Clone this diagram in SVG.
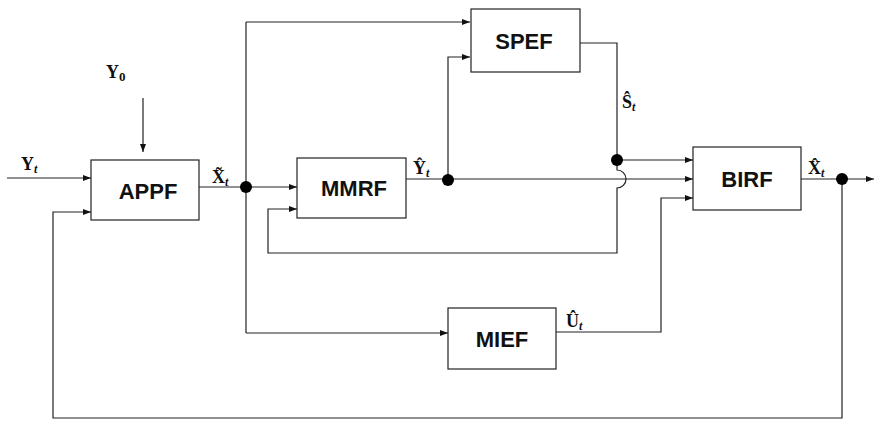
<svg xmlns="http://www.w3.org/2000/svg" width="874" height="422" viewBox="0 0 874 422">
<style>
.box{fill:#fff;stroke:#222;stroke-width:1.2}
.bt{font-family:"Liberation Sans",Arial,sans-serif;font-weight:bold;font-size:22px;fill:#111;text-anchor:middle}
.ln{fill:none;stroke:#222;stroke-width:1.2}
.lb{font-family:"Liberation Serif","Times New Roman",serif;font-weight:bold;font-size:18px;fill:#111}
.sb{font-style:italic;font-size:12px}
.sn{font-size:13px}
.dot{fill:#000}
</style>
<defs>
<marker id="ah" markerWidth="8" markerHeight="6" refX="8" refY="3" orient="auto" markerUnits="userSpaceOnUse">
<path d="M0,0 L8,3 L0,6 Z" fill="#111"/>
</marker>
</defs>
<rect width="874" height="422" fill="#fff"/>
<g id="connectors">
<path class="ln" d="M7 178 H91" marker-end="url(#ah)"/>
<path class="ln" d="M143 98 V152" marker-end="url(#ah)"/>
<path class="ln" d="M199 187 H246"/>
<path class="ln" d="M246 187 H297" marker-end="url(#ah)"/>
<path class="ln" d="M246 22 V333"/>
<path class="ln" d="M246 22 H470" marker-end="url(#ah)"/>
<path class="ln" d="M246 333 H448" marker-end="url(#ah)"/>
<path class="ln" d="M406 179 H693" marker-end="url(#ah)"/>
<path class="ln" d="M448 179 V57 H470" marker-end="url(#ah)"/>
<path class="ln" d="M580 43 H617 V160"/>
<path class="ln" d="M617 160 H693" marker-end="url(#ah)"/>
<path class="ln" d="M617 160 V170 A9 9 0 0 1 617 188 V253 H268 V209 H297" marker-end="url(#ah)"/>
<path class="ln" d="M556 332 H661 V198 H693" marker-end="url(#ah)"/>
<path class="ln" d="M801 179 H874" marker-end="url(#ah)"/>
<path class="ln" d="M842 179 V418 H53 V212 H91" marker-end="url(#ah)"/>
<circle class="dot" cx="246" cy="187" r="6"/>
<circle class="dot" cx="448" cy="180" r="6"/>
<circle class="dot" cx="617" cy="160" r="6"/>
<circle class="dot" cx="842" cy="179" r="6"/>
</g>
<g id="APPF"><rect class="box" x="91" y="160" width="108" height="60"/><text class="bt" x="148" y="199">APPF</text></g>
<g id="MMRF"><rect class="box" x="297" y="158" width="109" height="60"/><text class="bt" x="354" y="196">MMRF</text></g>
<g id="SPEF"><rect class="box" x="471" y="9" width="109" height="63"/><text class="bt" x="524" y="49">SPEF</text></g>
<g id="BIRF"><rect class="box" x="693" y="147" width="108" height="63"/><text class="bt" x="747" y="187">BIRF</text></g>
<g id="MIEF"><rect class="box" x="448" y="308" width="108" height="61"/><text class="bt" x="502" y="347">MIEF</text></g>
<g id="labels">
<text class="lb" x="21" y="170">Y<tspan class="sb" dy="3">t</tspan></text>
<text class="lb" x="106" y="78">Y<tspan class="sn" dy="3">0</tspan></text>
<text class="lb" x="212" y="183">X&#x303;<tspan class="sb" dy="3">t</tspan></text>
<text class="lb" x="413" y="174">&#x176;<tspan class="sb" dy="3">t</tspan></text>
<text class="lb" x="622" y="108">&#x15C;<tspan class="sb" dy="3">t</tspan></text>
<text class="lb" x="808" y="174">X&#x302;<tspan class="sb" dy="3">t</tspan></text>
<text class="lb" x="566" y="327">&#xDB;<tspan class="sb" dy="3">t</tspan></text>
</g>
</svg>
